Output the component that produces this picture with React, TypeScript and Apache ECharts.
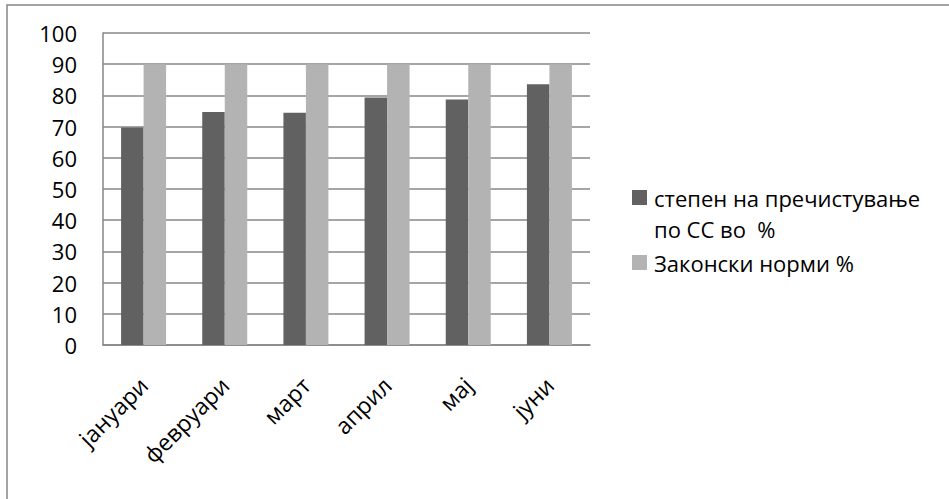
import React, { useEffect, useRef } from "react";
import * as echarts from "echarts";

const categories = ["јануари", "февруари", "март", "април", "мај", "јуни"];
const purification = [69.7, 74.7, 74.4, 79.3, 78.7, 83.6];
const legalNorm = [90, 90, 90, 90, 90, 90];
const seriesNames = ["степен на пречистување по СС во  %", "Законски норми %"];

const FONT = "'Open Sans', sans-serif";
const GRID_COLOR = "#878787";

export default function App() {
  const ref = useRef<HTMLDivElement>(null);
  useEffect(() => {
    if (!ref.current) return;
    const chart = echarts.init(ref.current, null, { renderer: "svg" });
    chart.setOption({
      animation: false,
      backgroundColor: "#ffffff",
      textStyle: { fontFamily: FONT },
      grid: { left: 103, top: 33, width: 487, height: 312, containLabel: false },
      xAxis: {
        type: "category",
        data: categories,
        axisLine: { show: true, lineStyle: { color: GRID_COLOR, width: 1.5 } },
        axisTick: { show: false },
        axisLabel: {
          rotate: 45,
          margin: 36,
          fontSize: 23,
          color: "#000",
          fontFamily: FONT,
          interval: 0,
        },
      },
      yAxis: {
        type: "value",
        min: 0,
        max: 100,
        interval: 10,
        axisLine: { show: true, lineStyle: { color: GRID_COLOR, width: 1.5 } },
        axisTick: { show: false },
        splitLine: { show: true, lineStyle: { color: GRID_COLOR, width: 1.5 } },
        axisLabel: { fontSize: 22, color: "#000", margin: 26, fontFamily: FONT },
      },
      legend: {
        orient: "vertical",
        left: 632,
        top: 182,
        padding: 0,
        itemWidth: 15,
        itemHeight: 15,
        itemGap: 34,
        icon: "rect",
        data: seriesNames,
        formatter: (name: string) =>
          name === seriesNames[0] ? "степен на пречистување" : name,
        textStyle: {
          fontSize: 22,
          lineHeight: 31,
          color: "#000",
          fontFamily: FONT,
          padding: [0, 0, 0, 2],
        },
      },
      graphic: [
        {
          type: "rect",
          silent: true,
          shape: { x: 7, y: 5, width: 1000, height: 1000 },
          style: { fill: "none", stroke: GRID_COLOR, lineWidth: 1.5 },
        },
        {
          type: "text",
          left: 654,
          top: 213,
          style: {
            text: "по СС во  %",
            fontSize: 22,
            fontFamily: FONT,
            fill: "#000",
            lineHeight: 31,
          },
        },
      ],
      series: [
        {
          name: seriesNames[0],
          type: "bar",
          data: purification,
          barWidth: 22.5,
          barGap: "0%",
          itemStyle: { color: "#616161" },
        },
        {
          name: seriesNames[1],
          type: "bar",
          data: legalNorm,
          barWidth: 22.5,
          barGap: "0%",
          itemStyle: { color: "#b3b3b3" },
        },
      ],
    });
    return () => chart.dispose();
  }, []);
  return (
    <div
      ref={ref}
      style={{ position: "fixed", left: 0, top: 0, width: 949, height: 499 }}
    />
  );
}
